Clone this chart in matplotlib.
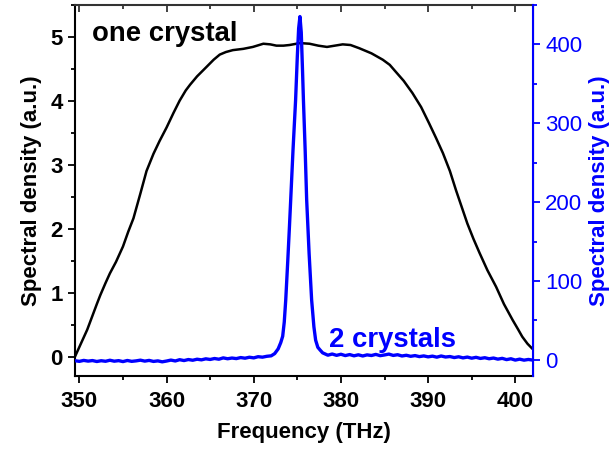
import matplotlib
matplotlib.use("Agg")
import matplotlib.pyplot as plt
from matplotlib.ticker import MultipleLocator

plt.rcParams['font.family'] = ['Liberation Sans', 'DejaVu Sans']

# Single-crystal spectrum (left axis, a.u.)
one_freq = [349.5, 350.0, 350.9, 352.0, 352.4, 353.0, 353.5, 354.2, 355.0, 355.6,
            356.2, 357.0, 357.7, 358.5, 359.2, 360.0, 360.8, 361.5, 362.2, 362.7,
            363.5, 364.6, 365.4, 366.1, 366.8, 367.6, 368.8, 369.9, 371.1, 371.9,
            372.6, 373.4, 374.1, 375.3, 376.4, 377.4, 378.4, 379.3, 380.2, 381.1,
            382.1, 383.5, 384.8, 385.6, 386.3, 387.2, 388.2, 389.2, 390.1, 390.9,
            391.7, 392.5, 393.2, 394.0, 394.5, 395.2, 395.9, 396.8, 397.8, 398.7,
            399.7, 400.3, 400.8, 401.4, 401.9]
one_val = [0.00, 0.15, 0.42, 0.82, 0.96, 1.15, 1.30, 1.48, 1.72, 1.95,
           2.16, 2.55, 2.90, 3.17, 3.37, 3.58, 3.81, 4.00, 4.16, 4.25,
           4.38, 4.53, 4.64, 4.72, 4.76, 4.79, 4.81, 4.84, 4.89, 4.88,
           4.86, 4.86, 4.87, 4.90, 4.89, 4.86, 4.84, 4.86, 4.88, 4.87,
           4.82, 4.74, 4.64, 4.56, 4.45, 4.31, 4.12, 3.90, 3.65, 3.42,
           3.18, 2.90, 2.60, 2.28, 2.08, 1.84, 1.62, 1.35, 1.09, 0.82,
           0.57, 0.43, 0.31, 0.20, 0.13]

# Two-crystal spectrum (right axis, a.u.)
two_freq = [349.5, 350.0, 350.5, 351.0, 351.5, 352.0, 352.5, 353.0, 353.5, 354.0,
            354.5, 355.0, 355.5, 356.0, 356.5, 357.0, 357.5, 358.0, 358.5, 359.0,
            359.5, 360.0, 360.5, 361.0, 361.5, 362.0, 362.5, 363.0, 363.5, 364.0,
            364.5, 365.0, 365.5, 366.0, 366.5, 367.0, 367.5, 368.0, 368.5, 369.0,
            369.5, 370.0, 370.5, 371.0, 371.5, 372.0,
            372.4, 372.8, 373.1, 373.32, 373.5, 373.67, 373.9, 374.1, 374.24, 374.5,
            374.8, 375.0, 375.15, 375.3, 375.45, 375.6, 375.7, 375.9, 376.07, 376.35,
            376.64, 376.9, 377.1, 377.35, 377.6, 377.9, 378.2,
            378.5, 379.0, 379.5, 380.0, 380.5, 381.0, 381.5, 382.0, 382.5, 383.0,
            383.5, 384.0, 384.5, 385.0, 385.5, 386.0, 386.5, 387.0, 387.5, 388.0,
            388.5, 389.0, 389.5, 390.0, 390.5, 391.0, 391.5, 392.0, 392.5, 393.0,
            393.5, 394.0, 394.5, 395.0, 395.5, 396.0, 396.5, 397.0, 397.5, 398.0,
            398.5, 399.0, 399.5, 400.0, 400.5, 401.0, 401.5, 402.0]
two_val = [-1.0, -1.8, -0.6, -1.5, -0.8, -2.0, -1.0, -1.7, -0.4, -1.6,
           -0.9, -2.1, -0.7, -1.8, -1.2, -0.3, -1.5, -0.6, -1.9, -1.2,
           -2.4, -1.4, -0.2, -1.3, 0.3, -0.8, 0.5, -0.4, 0.9, 0.1,
           1.4, 0.6, 1.8, 0.9, 2.6, 1.5, 2.4, 1.7, 3.0, 2.2,
           3.4, 2.6, 4.1, 3.5, 4.6, 5.2,
           8.0, 14.0, 22.0, 30.0, 48.0, 76.0, 125.0, 170.0, 203.0, 265.0,
           329.0, 385.0, 420.0, 435.0, 415.0, 365.0, 329.0, 265.0, 203.0, 135.0,
           76.0, 42.0, 25.0, 16.0, 12.7, 9.0, 7.5,
           6.0, 7.5, 5.8, 7.2, 5.5, 6.8, 5.2, 6.5, 5.0, 6.4,
           5.6, 7.0, 5.4, 6.3, 7.4, 5.7, 6.6, 5.0, 5.9, 4.6,
           5.5, 4.2, 5.1, 3.9, 4.8, 3.5, 5.0, 3.7, 4.3, 3.0,
           4.0, 2.6, 3.6, 2.2, 3.3, 1.9, 2.8, 1.5, 2.4, 1.0,
           2.0, 0.4, 1.5, -0.2, 1.0, -0.3, 0.6, -0.2]

BLUE = '#0000FF'
TICK_FS = 16
RIGHT_TICK_FS = 16
LABEL_FS = 16
NOTE_FS = 19.8

fig = plt.figure(figsize=(6.16, 4.53), dpi=100)
ax = fig.add_axes([0.1218, 0.1706, 0.7430, 0.8190])
ax2 = ax.twinx()

ax.plot(one_freq, one_val, color='black', lw=1.8, zorder=3)
ax2.plot(two_freq, two_val, color=BLUE, lw=2.4, zorder=3)

ax.set_xlim(349.5, 402)
ax.set_ylim(-0.3, 5.5)
ax2.set_ylim(-20, 450)

ax.xaxis.set_major_locator(MultipleLocator(10))
ax.xaxis.set_minor_locator(MultipleLocator(5))
ax.yaxis.set_major_locator(MultipleLocator(1))
ax.yaxis.set_minor_locator(MultipleLocator(0.5))
ax2.yaxis.set_major_locator(MultipleLocator(100))
ax2.yaxis.set_minor_locator(MultipleLocator(50))

for sp in ['left', 'bottom']:
    ax.spines[sp].set_linewidth(1.5)
ax.spines['top'].set_linewidth(1.5)
ax.spines['top'].set_color('#333333')
ax2.spines['right'].set_color(BLUE)
ax2.spines['right'].set_linewidth(1.5)
ax2.spines['top'].set_visible(False)
ax2.spines['left'].set_visible(False)
ax2.spines['bottom'].set_visible(False)

ax.tick_params(axis='x', which='both', direction='out', top=False, width=1.3)
ax.tick_params(axis='x', which='major', length=5, pad=6)
ax.tick_params(axis='x', which='minor', length=3)
ax.tick_params(axis='y', which='both', direction='out', right=False, width=1.3)
ax.tick_params(axis='y', which='major', length=5, pad=4)
ax.tick_params(axis='y', which='minor', length=3)
ax2.tick_params(axis='y', which='both', direction='out', colors=BLUE, width=1.3)
ax2.tick_params(axis='y', which='major', length=5, pad=4, labelsize=RIGHT_TICK_FS)
ax2.tick_params(axis='y', which='minor', length=3)

# Mirrored inward ticks along the top edge
top = ax.secondary_xaxis('top')
top.xaxis.set_major_locator(MultipleLocator(10))
top.xaxis.set_minor_locator(MultipleLocator(5))
top.tick_params(axis='x', which='both', direction='in', labeltop=False, color='#333333', width=1.3)
top.tick_params(axis='x', which='major', length=5)
top.tick_params(axis='x', which='minor', length=3)
top.spines['top'].set_visible(False)

for lab in ax.get_xticklabels() + ax.get_yticklabels():
    lab.set_fontweight('bold')
    lab.set_fontsize(TICK_FS)

ax.set_xlabel('Frequency (THz)', fontsize=LABEL_FS, fontweight='bold', labelpad=7)
ax.set_ylabel('Spectral density (a.u.)', fontsize=LABEL_FS, fontweight='bold', labelpad=6)
ax2.set_ylabel('Spectral density (a.u.)', fontsize=LABEL_FS, fontweight='bold',
               color=BLUE, labelpad=5)

ax.text(351.5, 4.93, 'one crystal', fontsize=NOTE_FS, fontweight='bold', color='black',
        va='baseline', ha='left')
ax2.text(378.6, 17, '2 crystals', fontsize=NOTE_FS, fontweight='bold', color=BLUE,
         va='baseline', ha='left')

fig.savefig('out.png', dpi=100)
